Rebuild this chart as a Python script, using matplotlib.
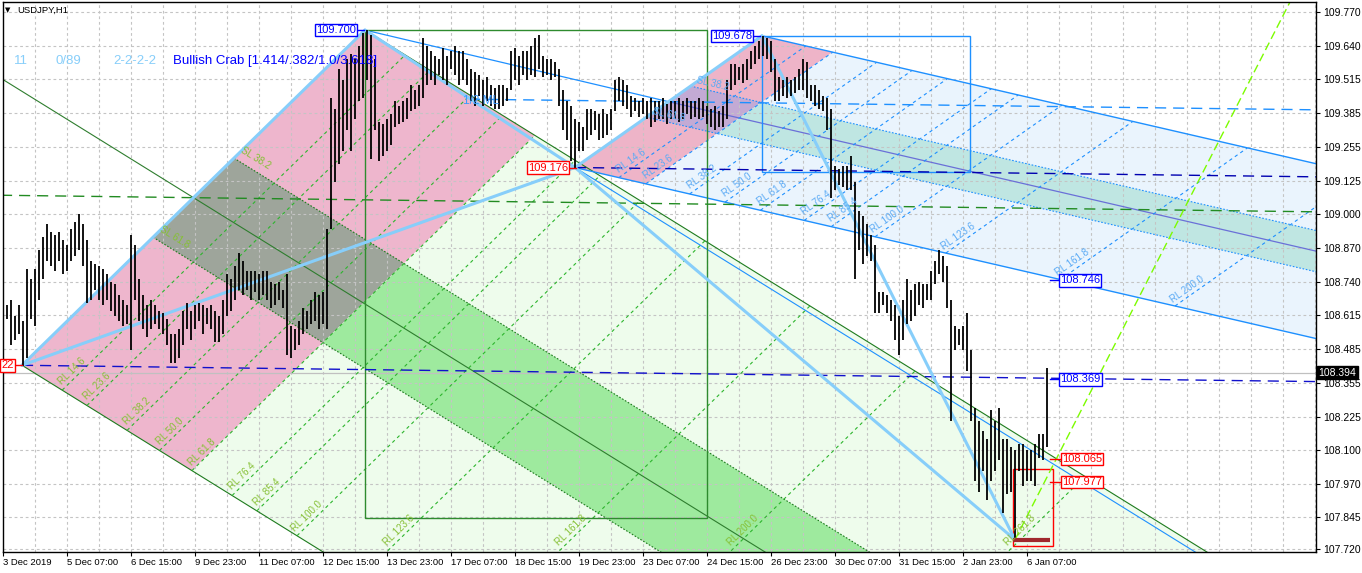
import numpy as np
import matplotlib.pyplot as plt
from matplotlib.patches import Polygon, Rectangle
import matplotlib.transforms as mtransforms

plt.rcParams['font.family'] = ['Liberation Sans', 'DejaVu Sans']

W, H = 1362, 573

bar_high = [108.66, 108.65, 108.67, 108.61, 108.65, 108.59, 108.79, 108.75, 108.79, 108.86,
            108.91, 108.96, 108.93, 108.92, 108.93, 108.90, 108.88, 108.94, 108.97, 109.00,
            108.96, 108.90, 108.82, 108.81, 108.80, 108.79, 108.77, 108.74, 108.73, 108.69,
            108.67, 108.65, 108.92, 108.88, 108.75, 108.69, 108.65, 108.67, 108.65, 108.63,
            108.62, 108.60, 108.54, 108.54, 108.56, 108.63, 108.66, 108.63, 108.65, 108.66,
            108.65, 108.64, 108.65, 108.63, 108.61, 108.67, 108.77, 108.75, 108.80, 108.85,
            108.82, 108.78, 108.78, 108.78, 108.77, 108.78, 108.78, 108.74, 108.73, 108.74,
            108.71, 108.77, 108.57, 108.56, 108.59, 108.64, 108.63, 108.67, 108.70, 108.69,
            108.70, 108.94, 109.44, 109.40, 109.55, 109.51, 109.59, 109.61, 109.59, 109.64,
            109.69, 109.70, 109.68, 109.59, 109.35, 109.34, 109.36, 109.38, 109.43, 109.41,
            109.43, 109.44, 109.49, 109.47, 109.49, 109.67, 109.64, 109.62, 109.60, 109.59,
            109.63, 109.60, 109.62, 109.64, 109.62, 109.62, 109.59, 109.55, 109.54, 109.53,
            109.51, 109.52, 109.49, 109.48, 109.49, 109.49, 109.48, 109.62, 109.63, 109.60,
            109.62, 109.62, 109.64, 109.67, 109.68, 109.60, 109.59, 109.59, 109.58, 109.55,
            109.47, 109.43, 109.41, 109.36, 109.35, 109.33, 109.40, 109.40, 109.39, 109.38,
            109.40, 109.38, 109.40, 109.51, 109.52, 109.51, 109.49, 109.45, 109.44, 109.43,
            109.44, 109.43, 109.44, 109.43, 109.43, 109.44, 109.42, 109.43, 109.43, 109.44,
            109.43, 109.44, 109.43, 109.43, 109.44, 109.43, 109.41, 109.40, 109.41, 109.39,
            109.41, 109.51, 109.57, 109.57, 109.56, 109.57, 109.59, 109.62, 109.64, 109.66,
            109.678, 109.67, 109.66, 109.59, 109.52, 109.51, 109.52, 109.51, 109.52, 109.55,
            109.59, 109.58, 109.49, 109.49, 109.47, 109.45, 109.44, 109.40, 109.18, 109.17,
            109.18, 109.18, 109.22, 109.12, 109.01, 108.99, 108.96, 108.92, 108.88, 108.70,
            108.70, 108.69, 108.67, 108.65, 108.61, 108.67, 108.75, 108.71, 108.73, 108.74,
            108.73, 108.73, 108.78, 108.82, 108.86, 108.84, 108.80, 108.67, 108.57, 108.56,
            108.57, 108.62, 108.48, 108.26, 108.21, 108.17, 108.14, 108.25, 108.21, 108.26,
            108.14, 108.14, 108.11, 108.10, 108.12, 108.12, 108.10, 108.10, 108.12, 108.16,
            108.16, 108.41]
bar_low = [108.59, 108.60, 108.50, 108.52, 108.54, 108.42, 108.45, 108.60, 108.57, 108.67,
           108.75, 108.82, 108.80, 108.78, 108.82, 108.77, 108.78, 108.82, 108.84, 108.86,
           108.80, 108.66, 108.67, 108.71, 108.67, 108.65, 108.67, 108.63, 108.61, 108.59,
           108.57, 108.58, 108.48, 108.67, 108.59, 108.56, 108.53, 108.56, 108.58, 108.56,
           108.54, 108.50, 108.43, 108.43, 108.45, 108.50, 108.56, 108.52, 108.56, 108.59,
           108.54, 108.58, 108.56, 108.51, 108.51, 108.54, 108.61, 108.63, 108.67, 108.71,
           108.69, 108.71, 108.67, 108.70, 108.67, 108.69, 108.67, 108.64, 108.65, 108.67,
           108.64, 108.46, 108.45, 108.48, 108.50, 108.54, 108.56, 108.58, 108.59, 108.56,
           108.58, 108.56, 108.94, 109.12, 109.19, 109.24, 109.32, 109.24, 109.36, 109.43,
           109.44, 109.51, 109.21, 109.32, 109.20, 109.22, 109.24, 109.26, 109.33, 109.34,
           109.35, 109.36, 109.39, 109.40, 109.41, 109.44, 109.49, 109.51, 109.49, 109.53,
           109.51, 109.49, 109.55, 109.53, 109.49, 109.51, 109.49, 109.43, 109.41, 109.45,
           109.41, 109.43, 109.41, 109.40, 109.40, 109.41, 109.43, 109.47, 109.51, 109.49,
           109.53, 109.51, 109.53, 109.52, 109.55, 109.52, 109.53, 109.51, 109.52, 109.41,
           109.32, 109.28, 109.20, 109.176, 109.24, 109.24, 109.28, 109.30, 109.32, 109.28,
           109.29, 109.30, 109.32, 109.39, 109.43, 109.41, 109.40, 109.37, 109.39, 109.37,
           109.38, 109.36, 109.33, 109.35, 109.36, 109.36, 109.34, 109.36, 109.36, 109.35,
           109.36, 109.38, 109.36, 109.37, 109.36, 109.37, 109.34, 109.33, 109.32, 109.33,
           109.33, 109.36, 109.47, 109.49, 109.51, 109.50, 109.51, 109.55, 109.57, 109.59,
           109.60, 109.59, 109.54, 109.43, 109.43, 109.45, 109.44, 109.45, 109.46, 109.47,
           109.47, 109.44, 109.43, 109.41, 109.40, 109.39, 109.32, 109.06, 109.09, 109.11,
           109.10, 109.09, 109.09, 108.75, 108.86, 108.81, 108.84, 108.82, 108.62, 108.62,
           108.65, 108.62, 108.59, 108.52, 108.46, 108.52, 108.58, 108.59, 108.61, 108.65,
           108.64, 108.67, 108.67, 108.73, 108.77, 108.74, 108.64, 108.21, 108.48, 108.50,
           108.48, 108.40, 108.21, 107.98, 107.94, 108.02, 107.91, 107.98, 108.02, 108.06,
           107.86, 107.93, 107.94, 107.757, 108.02, 107.96, 107.98, 107.98, 107.96, 108.07,
           108.06, 108.11]
hours_per_bar = 2

time_labels = ["3 Dec 2019", "5 Dec 07:00", "6 Dec 15:00", "9 Dec 23:00", "11 Dec 07:00",
               "12 Dec 15:00", "13 Dec 23:00", "17 Dec 07:00", "18 Dec 15:00", "19 Dec 23:00",
               "23 Dec 07:00", "24 Dec 15:00", "26 Dec 23:00", "30 Dec 07:00", "31 Dec 15:00",
               "2 Jan 23:00", "6 Jan 07:00"]
price_ticks = [109.770, 109.640, 109.515, 109.385, 109.255, 109.125, 109.000, 108.870, 108.740,
               108.615, 108.485, 108.355, 108.225, 108.100, 107.970, 107.845, 107.720]

# pattern points: (hour index, price)
pt_X = (9.5, 108.422)
pt_A = (181.0, 109.700)
pt_B = (286.0, 109.176)
pt_C = (379.5, 109.678)
pt_D = (506.0, 107.757)

# fork directions, one step = 100 % of the reaction-line unit
fork_left_dir = (137.5, -0.650)
fork_right_dir = (150.0, -0.264)
drift = -0.0000961      # slope of the level lines, price per hour
lime_slope = 0.01491

rl_levels = [14.6, 23.6, 38.2, 50.0, 61.8, 76.4, 85.4, 100.0, 123.6, 161.8, 200.0, 261.8]
rl_levels_right = [14.6, 23.6, 38.2, 50.0, 61.8, 76.4, 85.4, 100.0, 123.6, 161.8, 200.0]

# the X box is cut by the left edge, only "22" of 108.422 shows
box_text = ["109.700", "109.176", "109.678", "22", "108.746", "108.369", "108.065", "107.977"]
box_price = [109.700, 109.176, 109.678, 108.422, 108.746, 108.369, 108.065, 107.977]
box_color = ["#0000ff", "#ff0000", "#0000ff", "#ff0000", "#0000ff", "#0000ff", "#ff0000", "#ff0000"]
current_price = 108.394

fig = plt.figure(figsize=(W / 100, H / 100), dpi=100)
ax = fig.add_axes([2.5 / W, 21.5 / H, 1313.5 / W, 549.5 / H])
ax.set_xlim(-0.25, 656.5)
ax.set_ylim(107.712, 109.807)

X, A, B, C, D = map(np.array, (pt_X, pt_A, pt_B, pt_C, pt_D))
dL = np.array(fork_left_dir)
dR = np.array(fork_right_dir)
far = 6.0


def lerp(p, q, f):
    return p + f * (q - p)


def band(p0, p1, d, t0, t1, color):
    poly = Polygon([p0 + t0 * d, p1 + t0 * d, p1 + t1 * d, p0 + t1 * d], closed=True,
                   fc=color, ec='none', zorder=0.5)
    ax.add_patch(poly)


def seg(p, q, **kw):
    ax.plot([p[0], q[0]], [p[1], q[1]], **kw)


def screen_angle(vec):
    p0 = ax.transData.transform((0, 108.5))
    p1 = ax.transData.transform((vec[0], 108.5 + vec[1]))
    return np.degrees(np.arctan2(p1[1] - p0[1], p1[0] - p0[0]))


P = lambda f: lerp(A, X, f)
Q = lambda f: lerp(C, B, f)

# fills
band(X, A, dL, 0, 0.618, '#eeb6cd')
band(P(0.382), P(0.618), dL, 0, 0.618, '#9ea59b')
band(X, A, dL, 0.618, far, '#eefcec')
band(P(0.382), P(0.618), dL, 0.618, far, '#9eea9e')
band(B, C, dR, 0, 0.236, '#eeb4c8')
band(Q(0.382), Q(0.618), dR, 0, 0.236, '#c3aad4')
band(B, C, dR, 0.236, far, '#eaf4fd')
band(Q(0.382), Q(0.618), dR, 0.236, far, '#bfe6e2')

# grid
for h in range(16, 657, 16):
    ax.axvline(h, color='#c4c4c4', lw=0.8, ls=(0, (2.5, 2.5)), zorder=0.8)
for p in price_ticks:
    ax.axhline(p, color='#c4c4c4', lw=0.8, ls=(0, (2.5, 2.5)), zorder=0.8)

# left fork
seg(X, X + far * dL, color='#1e7b1e', lw=0.8, zorder=2)
seg(A, A + far * dL, color='#1e7b1e', lw=0.8, zorder=2)
seg(P(0.5) - dL, P(0.5) + far * dL, color='#2e7d2e', lw=0.8, zorder=2)
for f in (0.382, 0.618):
    seg(P(f), P(f) + far * dL, color='#1e7b1e', lw=0.8, ls=(0, (1.5, 1.5)), zorder=2)
for k in rl_levels:
    seg(X + k / 100 * dL, A + k / 100 * dL, color='#2db52d', lw=0.8, ls=(0, (3, 3)), zorder=2)

# right fork
seg(C, C + far * dR, color='#1e90ff', lw=1.0, zorder=2)
seg(B, B + far * dR, color='#1e90ff', lw=1.0, zorder=2)
seg(A, Q(0.5), color='#1e90ff', lw=0.9, zorder=2)
seg(Q(0.5), Q(0.5) + far * dR, color='#6a70d8', lw=0.9, zorder=2)
for f in (0.382, 0.618):
    seg(Q(f), Q(f) + far * dR, color='#1e90ff', lw=0.8, ls=(0, (1.5, 1.5)), zorder=2)
for k in rl_levels_right:
    seg(B + k / 100 * dR, C + k / 100 * dR, color='#1e90ff', lw=0.8, ls=(0, (3, 3)), zorder=2)
seg(B, B + far * dL, color='#1e90ff', lw=0.8, zorder=2)

# level lines
right_h = 660
for p0, h0, col in ((X, X[0], '#1010cc'), (B, B[0], '#0000b0')):
    ax.plot([h0, right_h], [p0[1], p0[1] + drift * (right_h - h0)], color=col, lw=1.0,
            ls=(0, (8, 5)), zorder=2.2)
mXA = lerp(X, A, 0.5)
ax.plot([-1, right_h], [mXA[1] + drift * (-1 - mXA[0]), mXA[1] + drift * (right_h - mXA[0])],
        color='#228b22', lw=1.0, ls=(0, (8, 5)), zorder=2.2)
mBC = Q(0.5)
ax.plot([233, right_h], [mBC[1] + drift * (233 - mBC[0]), mBC[1] + drift * (right_h - mBC[0])],
        color='#1e90ff', lw=1.0, ls=(0, (8, 5)), zorder=2.2)
ax.plot([D[0], right_h], [D[1], D[1] + lime_slope * (right_h - D[0])], color='#7cfc00', lw=1.0,
        ls=(0, (6, 3)), zorder=2.2)
ax.axhline(current_price, color='#c0c0c0', lw=0.9, zorder=1.8)

# rectangles
ax.add_patch(Rectangle((A[0], 107.839), 352 - A[0], A[1] - 107.839, fill=False, ec='#2e8b2e', lw=1.0, zorder=2))
ax.add_patch(Rectangle((C[0], 109.159), 483.5 - C[0], C[1] - 109.159, fill=False, ec='#1e90ff', lw=1.0, zorder=2))
ax.add_patch(Rectangle((505, 107.732), 20, 108.026 - 107.732, fill=False, ec='#ff0000', lw=1.0, zorder=2))
ax.plot([505, 523.5], [D[1], D[1]], color='#a0282d', lw=3, zorder=3.5, solid_capstyle='butt')

# pattern legs
for p, q in ((X, A), (A, B), (B, C), (C, D), (X, B), (B, D)):
    seg(p, q, color='#87cefa', lw=2.2, zorder=2.5, solid_capstyle='round')

# price bars
xs = np.arange(len(bar_high)) * hours_per_bar
ax.vlines(xs, bar_low, bar_high, colors='black', lw=1.3, zorder=3)

# reaction-line labels
ang_l = screen_angle(A - X)
for k in rl_levels:
    c = X + k / 100 * dL
    if c[1] < 107.72:
        c = c + (107.72 - c[1]) / (A[1] - X[1]) * (A - X)
    ax.text(c[0] + 5, c[1] + 0.0725, f"RL {k:.1f}", rotation=ang_l, rotation_mode='anchor',
            ha='center', va='center', fontsize=7, color='#86c035', zorder=4, clip_on=True)
ang_r = screen_angle(C - B)
for k in rl_levels_right:
    c = B + k / 100 * dR
    ax.text(c[0] + 6, c[1] + 0.065, f"RL {k:.1f}", rotation=ang_r, rotation_mode='anchor',
            ha='center', va='center', fontsize=7, color='#5aaaf5', zorder=4, clip_on=True)
ang_sl = screen_angle(dL)
for f, lab in ((0.382, "SL 38.2"), (0.618, "SL 61.8")):
    c = P(f)
    ax.text(c[0] + 11, c[1], lab, rotation=ang_sl, rotation_mode='anchor', ha='center',
            va='center', fontsize=7, color='#86c035', zorder=4)
ang_slr = screen_angle(dR)
for f, lab in ((0.382, "SL 38.2"), (0.618, "SL 61.8")):
    c = Q(f)
    ax.text(c[0] + 11, c[1] + 0.01, lab, rotation=ang_slr, rotation_mode='anchor', ha='center',
            va='center', fontsize=7, color='#5aaaf5', zorder=4)
ax.text(230, 109.43, "1/2 ML", fontsize=8.5, color='#3c9bff', ha='left', va='center', zorder=4)

# price boxes
box_x = [176.5, 282.5, 374.5, 5.3, 528.5, 528.5, 529.5, 529.5]
box_ha = ['right', 'right', 'right', 'right', 'left', 'left', 'left', 'left']
for txt, pr, col, bx, bha in zip(box_text, box_price, box_color, box_x, box_ha):
    ax.text(bx, pr, txt, color=col, fontsize=8, ha=bha, va='center', zorder=5,
            bbox=dict(boxstyle='square,pad=0.12', fc='white', ec=col, lw=1.0))
    if bha == 'left':
        ax.plot([523.5, bx], [pr, pr], color=col, lw=1.0, zorder=4)
    else:
        ax.plot([bx, bx + 4], [pr, pr], color=col, lw=1.0, zorder=4)

# axes
for s in ax.spines.values():
    s.set_color('black')
    s.set_linewidth(1.0)
ax.yaxis.tick_right()
ax.set_yticks(price_ticks)
ax.set_yticklabels([f"{p:.3f}" for p in price_ticks])
ax.tick_params(axis='y', length=3, width=0.8, pad=2, labelsize=7.5, colors='black')
ax.set_xticks(np.arange(len(time_labels)) * 32)
ax.set_xticklabels(time_labels)
ax.tick_params(axis='x', length=3, width=0.8, pad=2, labelsize=6.8)
for lbl in ax.get_xticklabels():
    lbl.set_horizontalalignment('left')

tr = mtransforms.blended_transform_factory(ax.transAxes, ax.transData)
ax.text(1.0017, current_price, f"{current_price:.3f}", transform=tr, color='white', fontsize=7.5,
        ha='left', va='center', zorder=6, clip_on=False,
        bbox=dict(boxstyle='square,pad=0.15', fc='black', ec='black'))

# header texts
fig.text(5 / W, 1 - 10 / H, "\u25bc", fontsize=5, ha='left', va='center', family='DejaVu Sans')
fig.text(17 / W, 1 - 10 / H, "USDJPY,H1", fontsize=6.8, ha='left', va='center')
fig.text(14 / W, 1 - 61 / H, "11", fontsize=9.5, color='#87cefa', ha='left', va='center')
fig.text(55 / W, 1 - 61 / H, "0/89", fontsize=9.5, color='#87cefa', ha='left', va='center')
fig.text(113 / W, 1 - 61 / H, "2-2-2-2", fontsize=9.5, color='#87cefa', ha='left', va='center')
fig.text(173 / W, 1 - 61 / H, "Bullish Crab [1.414/.382/1.0/3.618]", fontsize=9.5, color='#0000ff',
         ha='left', va='center')

fig.savefig('out.png', dpi=100, facecolor='white')
